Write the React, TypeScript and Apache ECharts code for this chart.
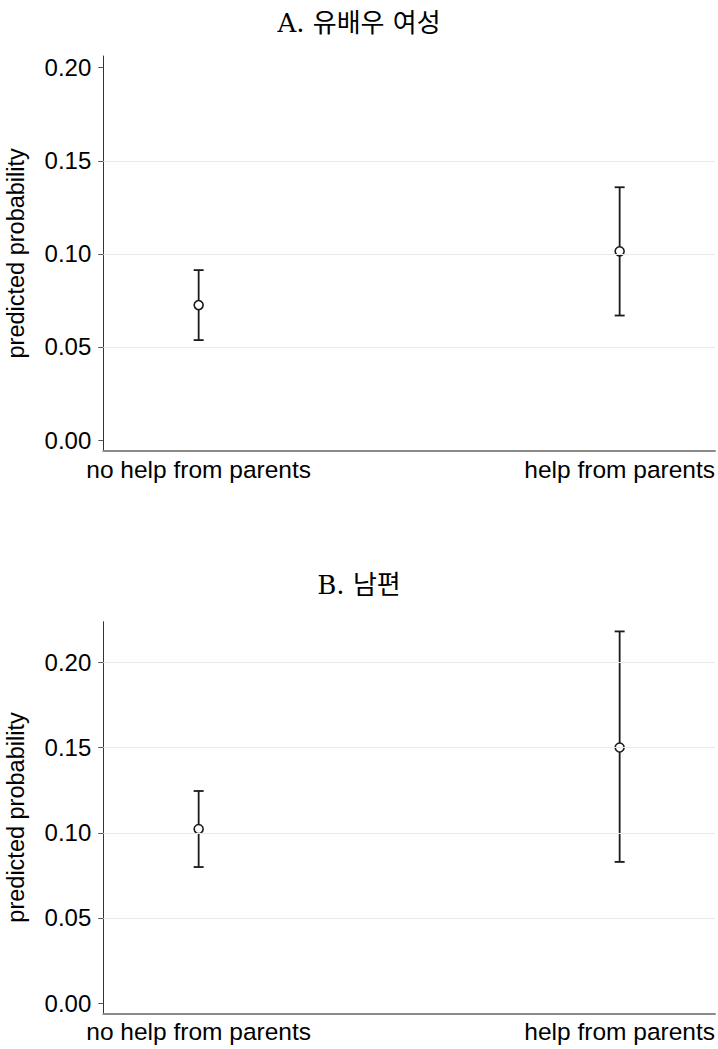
import React, { useEffect, useRef } from "react";
import * as echarts from "echarts";

const categories = ["no help from parents", "help from parents"];
const categoryPositions = [0, 1];
const panelTitles = ["A. 유배우 여성", "B. 남편"];
const estimatesA = [0.0725, 0.1014];
const lowerA = [0.0537, 0.0669];
const upperA = [0.0913, 0.1358];
const estimatesB = [0.1022, 0.15];
const lowerB = [0.0799, 0.0829];
const upperB = [0.1245, 0.2181];
const yTicks = [0, 0.05, 0.1, 0.15, 0.2];
const gridLinesA = [0.05, 0.1, 0.15];
const gridLinesB = [0.05, 0.1, 0.15, 0.2];
const yRangeA = [-0.0057, 0.2063];
const yRangeB = [-0.0059, 0.2238];
const xRange = [-0.2265, 1.2265];
const yAxisName = "predicted probability";

const SANS = "'Liberation Sans', Arial, sans-serif";
const SERIF = "'DejaVu Serif', 'Noto Sans CJK KR', serif";
const INK = "#1a1a1a";

export default function App() {
  const ref = useRef<HTMLDivElement>(null);
  useEffect(() => {
    if (!ref.current) return;
    const chart = echarts.init(ref.current, undefined, { renderer: "svg" });

    const makeXAxis = (gridIndex: number) => ({
      type: "value",
      gridIndex,
      min: xRange[0],
      max: xRange[1],
      axisLine: { show: true, onZero: false, lineStyle: { color: "#8a8a8a", width: 2 } },
      axisTick: { show: false },
      splitLine: { show: false },
      axisLabel: {
        customValues: categoryPositions,
        formatter: (v: number) => categories[Math.round(v)] ?? "",
        fontSize: 24.5,
        color: "#000",
        fontFamily: SANS,
        margin: 6,
      },
    });

    const makeYAxis = (gridIndex: number, range: number[]) => ({
      type: "value",
      gridIndex,
      min: range[0],
      max: range[1],
      name: yAxisName,
      nameLocation: "middle",
      nameGap: 75,
      nameTextStyle: { fontSize: 23.5, color: "#000", fontFamily: SANS },
      axisLine: { show: true, onZero: false, lineStyle: { color: "#333", width: 1 } },
      axisTick: { show: true, customValues: yTicks, length: 5, lineStyle: { color: "#555" } },
      splitLine: { show: false },
      axisLabel: {
        customValues: yTicks,
        formatter: (v: number) => v.toFixed(2),
        fontSize: 24,
        color: "#000",
        fontFamily: SANS,
        margin: 12,
      },
    });

    const errorSeries = (idx: number, lo: number[], hi: number[]) => ({
      type: "custom",
      xAxisIndex: idx,
      yAxisIndex: idx,
      z: 3,
      silent: true,
      encode: { x: 0, y: [1, 2] },
      data: categoryPositions.map((x, i) => [x, lo[i], hi[i]]),
      renderItem: (_p: any, api: any) => {
        const x = api.value(0);
        const a = api.coord([x, api.value(1)]);
        const b = api.coord([x, api.value(2)]);
        const cap = 5;
        const style = { stroke: INK, lineWidth: 1.8 };
        return {
          type: "group",
          children: [
            { type: "line", shape: { x1: a[0], y1: a[1], x2: b[0], y2: b[1] }, style },
            { type: "line", shape: { x1: a[0] - cap, y1: a[1], x2: a[0] + cap, y2: a[1] }, style },
            { type: "line", shape: { x1: b[0] - cap, y1: b[1], x2: b[0] + cap, y2: b[1] }, style },
          ],
        };
      },
    });

    const pointSeries = (idx: number, est: number[]) => ({
      type: "scatter",
      xAxisIndex: idx,
      yAxisIndex: idx,
      z: 4,
      silent: true,
      symbol: "circle",
      symbolSize: 9,
      itemStyle: { color: "#fff", borderColor: INK, borderWidth: 1.6, opacity: 1 },
      data: categoryPositions.map((x, i) => [x, est[i]]),
    });

    const gridSeries = (idx: number, vals: number[]) => ({
      type: "line",
      xAxisIndex: idx,
      yAxisIndex: idx,
      z: 1,
      data: [],
      markLine: {
        silent: true,
        symbol: ["none", "none"],
        label: { show: false },
        lineStyle: { color: "#e9e9e9", width: 1, type: "solid" },
        data: vals.map((v) => ({ yAxis: v })),
      },
    });

    const titleStyle = { fontSize: 26, fontWeight: "normal", color: "#000", fontFamily: SERIF };

    chart.setOption({
      animation: false,
      backgroundColor: "#fff",
      title: [
        { text: panelTitles[0], left: "center", top: 5, textStyle: titleStyle },
        { text: panelTitles[1], left: "center", top: 567, textStyle: titleStyle },
      ],
      grid: [
        { left: 103.3, top: 56, width: 611.7, height: 394.7, outerBoundsMode: "none", containLabel: false },
        { left: 103.3, top: 621.7, width: 611.7, height: 391.6, outerBoundsMode: "none", containLabel: false },
      ],
      xAxis: [makeXAxis(0), makeXAxis(1)],
      yAxis: [makeYAxis(0, yRangeA), makeYAxis(1, yRangeB)],
      series: [
        gridSeries(0, gridLinesA),
        gridSeries(1, gridLinesB),
        errorSeries(0, lowerA, upperA),
        errorSeries(1, lowerB, upperB),
        pointSeries(0, estimatesA),
        pointSeries(1, estimatesB),
      ],
    });
    return () => chart.dispose();
  }, []);

  return (
    <div
      ref={ref}
      style={{ position: "fixed", left: 0, top: 0, width: 718, height: 1049, background: "#fff" }}
    />
  );
}
